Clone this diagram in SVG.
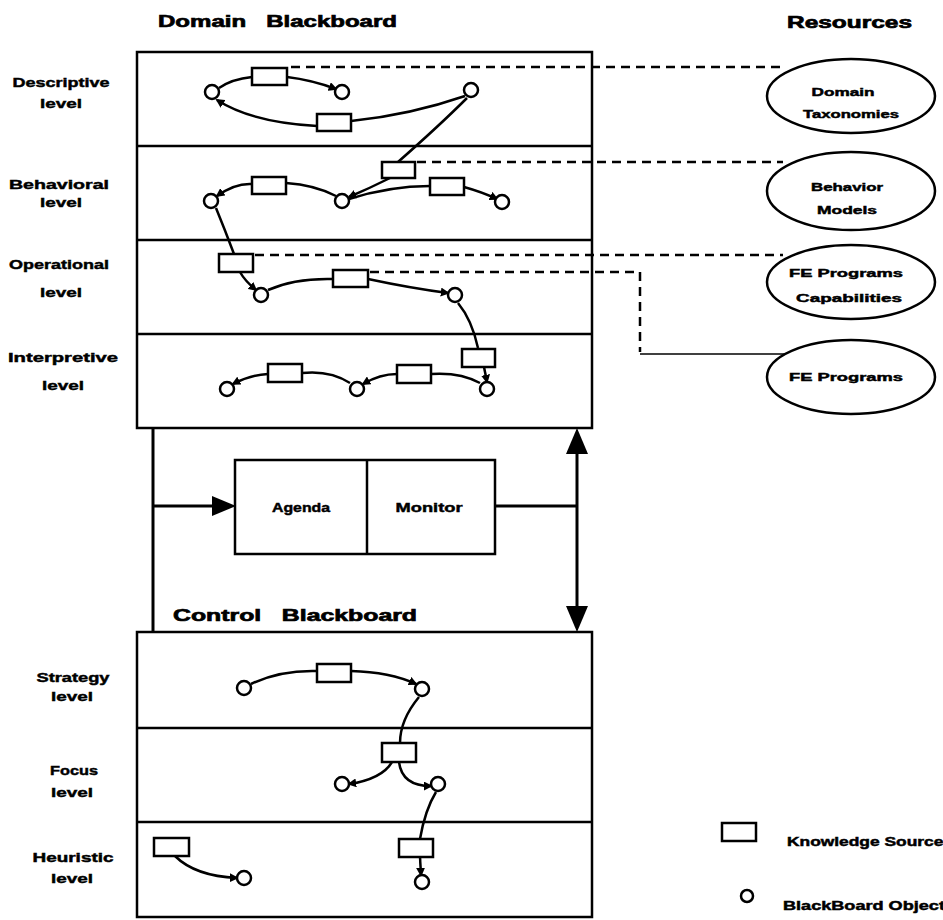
<svg xmlns="http://www.w3.org/2000/svg" width="943" height="920" viewBox="0 0 943 920">
<style>
text{font-family:"Liberation Sans",Arial,sans-serif;font-weight:bold;fill:#000;stroke:#000;stroke-width:0.45}
.lbl{font-size:13px;text-anchor:middle}
.title{font-size:17px;stroke-width:0.7}
.res{font-size:11px;text-anchor:middle}
.box{fill:none;stroke:#000;stroke-width:2.5}
.ks{fill:#fff;stroke:#000;stroke-width:2.5}
.bo{fill:#fff;stroke:#000;stroke-width:2.5}
.c{fill:none;stroke:#000;stroke-width:2.5}
.ca{fill:none;stroke:#000;stroke-width:2.5;marker-end:url(#ah)}
.d{fill:none;stroke:#000;stroke-width:2.5;stroke-dasharray:9 6}
.thin{fill:none;stroke:#000;stroke-width:1.5}
.big{fill:none;stroke:#000;stroke-width:3}
</style>
<defs>
<marker id="ah" viewBox="0 0 10 10" refX="8" refY="5" markerWidth="9" markerHeight="9" markerUnits="userSpaceOnUse" orient="auto">
<path d="M0,0 L10,5 L0,10 z" fill="#000"/>
</marker>
</defs>
<rect width="943" height="920" fill="#fff"/>

<g id="titles">
<text class="title" x="158" y="27" textLength="239" lengthAdjust="spacingAndGlyphs" xml:space="preserve">Domain   Blackboard</text>
<text class="title" x="787" y="28" textLength="125" lengthAdjust="spacingAndGlyphs">Resources</text>
<text class="title" x="173" y="621" textLength="244" lengthAdjust="spacingAndGlyphs" xml:space="preserve">Control   Blackboard</text>
</g>

<g id="domain-blackboard">
<rect class="box" x="137" y="52" width="455" height="376"/>
<line class="box" x1="137" y1="146" x2="592" y2="146"/>
<line class="box" x1="137" y1="240" x2="592" y2="240"/>
<line class="box" x1="137" y1="334" x2="592" y2="334"/>
</g>

<g id="control-blackboard">
<rect class="box" x="137" y="632" width="455" height="285"/>
<line class="box" x1="137" y1="728" x2="592" y2="728"/>
<line class="box" x1="137" y1="822" x2="592" y2="822"/>
</g>

<g id="level-labels">
<text class="lbl" x="61" y="87" textLength="97" lengthAdjust="spacingAndGlyphs">Descriptive</text>
<text class="lbl" x="61" y="108" textLength="42" lengthAdjust="spacingAndGlyphs">level</text>
<text class="lbl" x="59" y="189" textLength="100" lengthAdjust="spacingAndGlyphs">Behavioral</text>
<text class="lbl" x="61" y="207" textLength="42" lengthAdjust="spacingAndGlyphs">level</text>
<text class="lbl" x="59" y="269" textLength="100" lengthAdjust="spacingAndGlyphs">Operational</text>
<text class="lbl" x="61" y="297" textLength="42" lengthAdjust="spacingAndGlyphs">level</text>
<text class="lbl" x="63" y="362" textLength="110" lengthAdjust="spacingAndGlyphs">Interpretive</text>
<text class="lbl" x="63" y="390" textLength="42" lengthAdjust="spacingAndGlyphs">level</text>
<text class="lbl" x="73" y="682" textLength="73" lengthAdjust="spacingAndGlyphs">Strategy</text>
<text class="lbl" x="72" y="701" textLength="42" lengthAdjust="spacingAndGlyphs">level</text>
<text class="lbl" x="74" y="775" textLength="48" lengthAdjust="spacingAndGlyphs">Focus</text>
<text class="lbl" x="72" y="797" textLength="42" lengthAdjust="spacingAndGlyphs">level</text>
<text class="lbl" x="73" y="862" textLength="81" lengthAdjust="spacingAndGlyphs">Heuristic</text>
<text class="lbl" x="72" y="883" textLength="42" lengthAdjust="spacingAndGlyphs">level</text>
</g>

<g id="connectors">
<path class="d" d="M291,67 H783"/>
<path class="d" d="M417,162 H783"/>
<path class="d" d="M255,255 H783"/>
<path class="d" d="M370,272 H640 V352"/>
<path class="thin" d="M640,354 H785"/>
<path class="c" d="M219,88 Q232,79 252,77"/>
<path class="ca" d="M287,77 Q312,80 336,89"/>
<path class="c" d="M465,96 Q410,115 351,121"/>
<path class="ca" d="M317,126 C280,124 245,118 217,100"/>
<path class="c" d="M467,98 Q440,125 398,162"/>
<path class="ca" d="M390,178 Q370,188 349,197"/>
<path class="c" d="M349,199 Q390,186 430,186"/>
<path class="ca" d="M464,187 Q482,192 497,199"/>
<path class="c" d="M336,196 Q315,185 286,183"/>
<path class="ca" d="M252,184 Q235,183 217,196"/>
<path class="c" d="M216,208 Q225,230 234,254"/>
<path class="ca" d="M240,272 Q245,281 256,290"/>
<path class="c" d="M268,290 Q295,278 333,279"/>
<path class="ca" d="M368,279 Q410,288 448,293"/>
<path class="c" d="M458,303 Q472,320 478,348"/>
<path class="ca" d="M484,367 L487,382"/>
<path class="c" d="M480,383 Q460,372 431,374"/>
<path class="ca" d="M397,374 Q380,374 363,384"/>
<path class="c" d="M350,383 Q330,370 302,373"/>
<path class="ca" d="M268,374 Q250,375 233,384"/>
<path class="c" d="M251,684 Q280,670 317,671"/>
<path class="ca" d="M351,671 Q390,672 416,684"/>
<path class="c" d="M419,697 Q400,720 400,743"/>
<path class="ca" d="M392,762 Q382,779 349,784"/>
<path class="ca" d="M399,762 Q402,786 431,786"/>
<path class="c" d="M436,792 Q425,810 420,839"/>
<path class="ca" d="M420,857 L421,875"/>
<path class="ca" d="M175,856 Q195,876 237,878"/>
<path class="big" d="M153,428 V632"/>
<path class="big" d="M153,506 H215"/>
<path d="M212,496 L236,506 L212,516 z" fill="#000"/>
<path class="big" d="M495,506 H577"/>
<path class="big" d="M577,448 V612"/>
<path d="M566,454 L577,428 L588,454 z" fill="#000"/>
<path d="M566,606 L577,632 L588,606 z" fill="#000"/>
</g>

<g id="descriptive-nodes">
<rect class="ks" x="252" y="68" width="35" height="17"/>
<rect class="ks" x="317" y="114" width="34" height="17"/>
<circle class="bo" cx="212" cy="92" r="7"/>
<circle class="bo" cx="342" cy="92" r="7"/>
<circle class="bo" cx="471" cy="90" r="7"/>
</g>
<g id="behavioral-nodes">
<rect class="ks" x="382" y="162" width="33" height="16"/>
<rect class="ks" x="252" y="177" width="34" height="17"/>
<rect class="ks" x="430" y="178" width="34" height="17"/>
<circle class="bo" cx="211" cy="201" r="7"/>
<circle class="bo" cx="342" cy="201" r="7"/>
<circle class="bo" cx="502" cy="202" r="7"/>
</g>
<g id="operational-nodes">
<rect class="ks" x="219" y="254" width="34" height="18"/>
<rect class="ks" x="333" y="270" width="35" height="17"/>
<circle class="bo" cx="261" cy="295" r="7"/>
<circle class="bo" cx="455" cy="295" r="7"/>
</g>
<g id="interpretive-nodes">
<rect class="ks" x="462" y="349" width="33" height="18"/>
<rect class="ks" x="397" y="365" width="34" height="18"/>
<rect class="ks" x="268" y="364" width="34" height="18"/>
<circle class="bo" cx="487" cy="389" r="7"/>
<circle class="bo" cx="357" cy="389" r="7"/>
<circle class="bo" cx="227" cy="389" r="7"/>
</g>

<g id="agenda-monitor">
<rect class="box" x="235" y="460" width="260" height="94"/>
<line class="box" x1="367" y1="460" x2="367" y2="554"/>
<text x="301" y="512" font-size="13" text-anchor="middle" textLength="58" lengthAdjust="spacingAndGlyphs">Agenda</text>
<text x="429" y="512" font-size="13" text-anchor="middle" textLength="67" lengthAdjust="spacingAndGlyphs">Monitor</text>
</g>

<g id="strategy-nodes">
<rect class="ks" x="317" y="664" width="34" height="18"/>
<circle class="bo" cx="244" cy="688" r="7"/>
<circle class="bo" cx="422" cy="689" r="7"/>
</g>
<g id="focus-nodes">
<rect class="ks" x="382" y="743" width="34" height="19"/>
<circle class="bo" cx="342" cy="784" r="7"/>
<circle class="bo" cx="438" cy="784" r="7"/>
</g>
<g id="heuristic-nodes">
<rect class="ks" x="399" y="839" width="34" height="18"/>
<rect class="ks" x="154" y="838" width="35" height="18"/>
<circle class="bo" cx="422" cy="882" r="7"/>
<circle class="bo" cx="244" cy="878" r="7"/>
</g>

<g id="res-domain-taxonomies">
<ellipse class="bo" cx="851" cy="96" rx="84" ry="37"/>
<text class="res" x="843" y="96" textLength="63" lengthAdjust="spacingAndGlyphs">Domain</text>
<text class="res" x="851" y="118" textLength="96" lengthAdjust="spacingAndGlyphs">Taxonomies</text>
</g>
<g id="res-behavior-models">
<ellipse class="bo" cx="851" cy="191" rx="84" ry="39"/>
<text class="res" x="847" y="191" textLength="72" lengthAdjust="spacingAndGlyphs">Behavior</text>
<text class="res" x="847" y="214" textLength="60" lengthAdjust="spacingAndGlyphs">Models</text>
</g>
<g id="res-fe-capabilities">
<ellipse class="bo" cx="851" cy="282" rx="84" ry="37"/>
<text class="res" x="846" y="277" textLength="114" lengthAdjust="spacingAndGlyphs">FE Programs</text>
<text class="res" x="849" y="302" textLength="106" lengthAdjust="spacingAndGlyphs">Capabilities</text>
</g>
<g id="res-fe-programs">
<ellipse class="bo" cx="851" cy="377" rx="84" ry="37"/>
<text class="res" x="846" y="381" textLength="114" lengthAdjust="spacingAndGlyphs">FE Programs</text>
</g>

<g id="legend">
<rect class="ks" x="722" y="823" width="34" height="18"/>
<text x="787" y="846" font-size="12" textLength="166" lengthAdjust="spacingAndGlyphs">Knowledge Sources</text>
<circle class="bo" cx="747" cy="896" r="6"/>
<text x="783" y="910" font-size="12" textLength="172" lengthAdjust="spacingAndGlyphs">BlackBoard Objects</text>
</g>
</svg>
